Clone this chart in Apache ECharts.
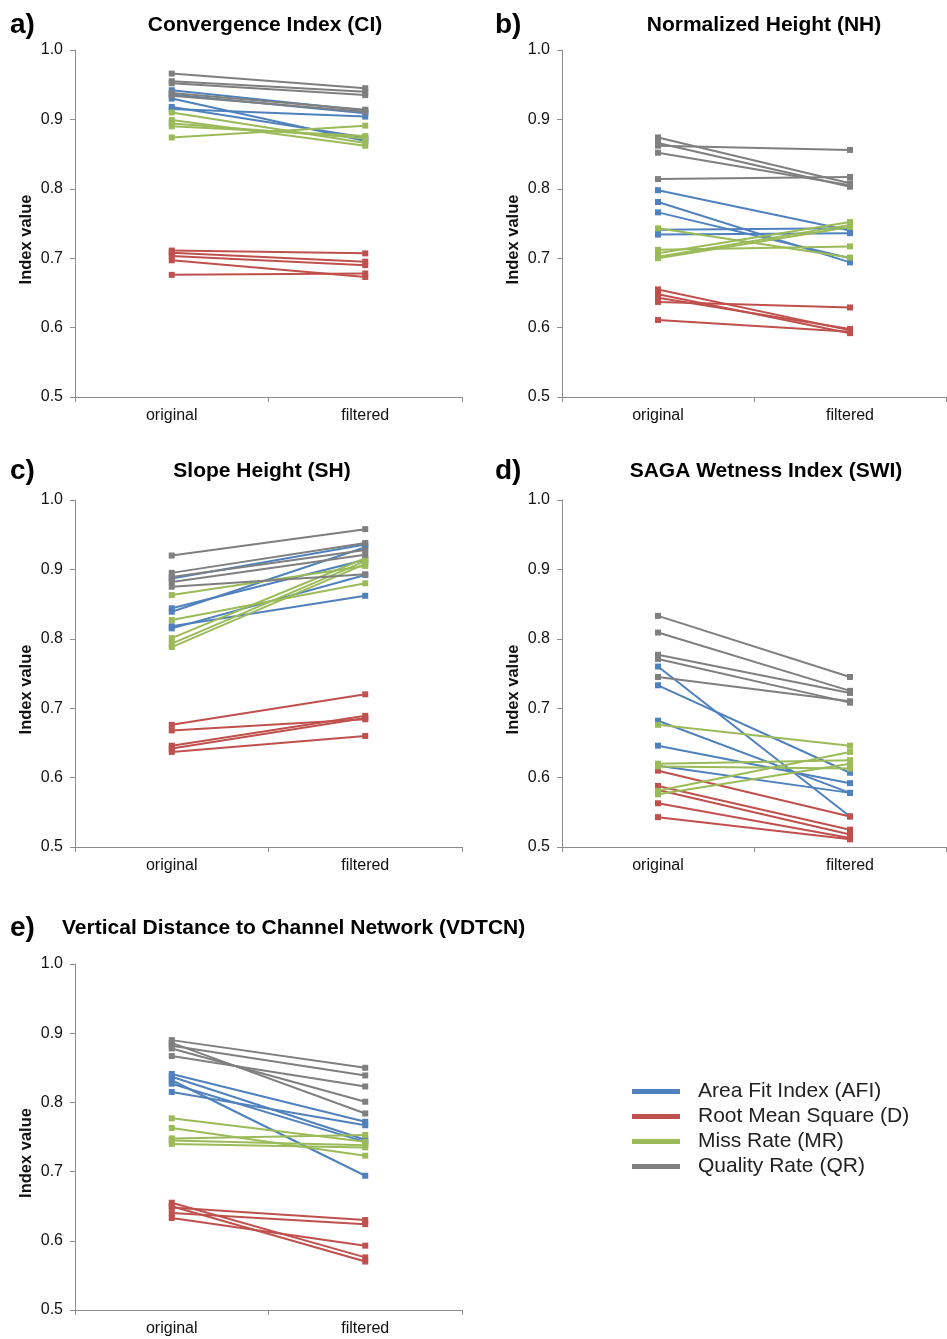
<!DOCTYPE html>
<html>
<head>
<meta charset="utf-8">
<script src="https://cdn.jsdelivr.net/npm/echarts@6/dist/echarts.min.js"></script>
<style>html,body{margin:0;padding:0;background:#fff}#c{width:947px;height:1339px}</style>
</head>
<body>
<div id="c"></div>
<script>
// ---- data (pairs: [original, filtered]) ----
const CATEGORIES = ['original', 'filtered'];
const GROUPS = ['Area Fit Index (AFI)', 'Root Mean Square (D)', 'Miss Rate (MR)', 'Quality Rate (QR)'];
const Y_TICKS = [0.5, 0.6, 0.7, 0.8, 0.9, 1.0];

const CI_AFI = [[0.942,0.913],[0.936,0.909],[0.930,0.869],[0.918,0.874],[0.915,0.904]];
const CI_D   = [[0.711,0.707],[0.708,0.695],[0.703,0.690],[0.697,0.673],[0.676,0.678]];
const CI_MR  = [[0.910,0.866],[0.899,0.862],[0.894,0.873],[0.890,0.876],[0.874,0.891]];
const CI_QR  = [[0.966,0.945],[0.955,0.940],[0.952,0.935],[0.938,0.914],[0.934,0.911]];

const NH_AFI = [[0.798,0.740],[0.781,0.694],[0.766,0.700],[0.741,0.743],[0.734,0.736]];
const NH_D   = [[0.655,0.596],[0.648,0.592],[0.643,0.598],[0.637,0.629],[0.611,0.594]];
const NH_MR  = [[0.743,0.701],[0.712,0.717],[0.707,0.752],[0.702,0.748],[0.700,0.745]];
const NH_QR  = [[0.874,0.808],[0.866,0.803],[0.862,0.856],[0.852,0.805],[0.814,0.817]];

const SH_AFI = [[0.887,0.936],[0.844,0.914],[0.839,0.932],[0.818,0.862],[0.815,0.892]];
const SH_D   = [[0.676,0.720],[0.668,0.684],[0.646,0.689],[0.642,0.686],[0.637,0.660]];
const SH_MR  = [[0.863,0.905],[0.827,0.880],[0.801,0.916],[0.793,0.912],[0.788,0.908]];
const SH_QR  = [[0.920,0.958],[0.895,0.938],[0.889,0.928],[0.882,0.921],[0.875,0.893]];

const SWI_AFI = [[0.760,0.544],[0.733,0.607],[0.682,0.578],[0.646,0.592],[0.617,0.578]];
const SWI_D   = [[0.610,0.544],[0.588,0.525],[0.582,0.518],[0.563,0.513],[0.543,0.511]];
const SWI_MR  = [[0.676,0.646],[0.620,0.625],[0.616,0.613],[0.581,0.637],[0.576,0.620]];
const SWI_QR  = [[0.833,0.745],[0.809,0.725],[0.777,0.722],[0.771,0.708],[0.745,0.710]];

const VD_AFI = [[0.841,0.772],[0.837,0.746],[0.832,0.694],[0.827,0.743],[0.815,0.767]];
const VD_D   = [[0.655,0.576],[0.650,0.570],[0.648,0.630],[0.640,0.624],[0.633,0.593]];
const VD_MR  = [[0.777,0.743],[0.763,0.723],[0.748,0.753],[0.745,0.738],[0.740,0.735]];
const VD_QR  = [[0.890,0.850],[0.886,0.784],[0.882,0.839],[0.878,0.801],[0.867,0.823]];

const PANEL_TITLES = ['Convergence Index (CI)', 'Normalized Height (NH)', 'Slope Height (SH)', 'SAGA Wetness Index (SWI)', 'Vertical Distance to Channel Network (VDTCN)'];
const PANEL_LETTERS = ['a)', 'b)', 'c)', 'd)', 'e)'];

// ---- layout/style ----
const COLORS = ['#4F81BD', '#C0504D', '#9BBB59', '#7F7F7F'];
const PANEL_DATA = [
  [CI_AFI, CI_D, CI_MR, CI_QR],
  [NH_AFI, NH_D, NH_MR, NH_QR],
  [SH_AFI, SH_D, SH_MR, SH_QR],
  [SWI_AFI, SWI_D, SWI_MR, SWI_QR],
  [VD_AFI, VD_D, VD_MR, VD_QR]
];
const GRIDS = [
  {left: 75, top: 50, width: 387, height: 347},
  {left: 562, top: 50, width: 384, height: 347},
  {left: 75, top: 500, width: 387, height: 347},
  {left: 562, top: 500, width: 384, height: 347},
  {left: 75, top: 964, width: 387, height: 346}
];
const FONT = 'Liberation Sans, Arial, sans-serif';
const AXIS_COLOR = '#8c8c8c';

const xAxes = [], yAxes = [], series = [], graphics = [];
GRIDS.forEach((g, i) => {
  xAxes.push({
    type: 'category', gridIndex: i, data: CATEGORIES, boundaryGap: true,
    axisLine: {lineStyle: {color: AXIS_COLOR, width: 1}},
    axisTick: {show: true, length: 5, lineStyle: {color: AXIS_COLOR}},
    axisLabel: {color: '#111', fontSize: 16, fontFamily: FONT, margin: 11}
  });
  yAxes.push({
    type: 'value', gridIndex: i, min: Y_TICKS[0], max: Y_TICKS[Y_TICKS.length - 1], interval: 0.1,
    name: 'Index value', nameLocation: 'middle', nameGap: 40, nameRotate: 90,
    nameTextStyle: {fontSize: 16.5, fontWeight: 'bold', fontFamily: FONT, color: '#111', padding: [0, 32, 0, 0]},
    axisLine: {show: true, lineStyle: {color: AXIS_COLOR, width: 1}},
    axisTick: {show: true, length: 5, lineStyle: {color: AXIS_COLOR}},
    splitLine: {show: false},
    axisLabel: {color: '#111', fontSize: 16, fontFamily: FONT, margin: 12, formatter: v => v.toFixed(1)}
  });
  PANEL_DATA[i].forEach((grp, gi) => {
    grp.forEach(pair => {
      series.push({
        type: 'line', name: GROUPS[gi], xAxisIndex: i, yAxisIndex: i,
        data: pair, symbol: 'rect', symbolSize: 6, showSymbol: true,
        color: COLORS[gi], lineStyle: {width: 2, color: COLORS[gi]},
        itemStyle: {color: COLORS[gi]}, silent: true, z: 2 + gi
      });
    });
  });
});

const LETTER_POS = [[10, 25], [495, 25], [10, 471], [495, 471], [10, 928]];
const TITLE_POS = [[265, 25, 'center'], [764, 25, 'center'], [262, 471, 'center'], [766, 471, 'center'], [62, 928, 'left']];
PANEL_LETTERS.forEach((t, i) => {
  graphics.push({type: 'text', x: LETTER_POS[i][0], y: LETTER_POS[i][1],
    style: {text: t, font: 'bold 28px ' + FONT, fill: '#000', textAlign: 'left', textVerticalAlign: 'middle'}});
  graphics.push({type: 'text', x: TITLE_POS[i][0], y: TITLE_POS[i][1],
    style: {text: PANEL_TITLES[i], font: 'bold 21px ' + FONT, fill: '#000', textAlign: TITLE_POS[i][2], textVerticalAlign: 'middle'}});
});

const chart = echarts.init(document.getElementById('c'), null, {renderer: 'canvas'});
chart.setOption({
  animation: false,
  backgroundColor: '#fff',
  grid: GRIDS.map(g => Object.assign({containLabel: false}, g)),
  xAxis: xAxes,
  yAxis: yAxes,
  series: series,
  graphic: graphics,
  legend: {
    data: GROUPS, orient: 'vertical', left: 627, top: 1076,
    icon: 'rect', itemWidth: 48, itemHeight: 5, itemGap: 4,
    textStyle: {fontSize: 21, fontFamily: FONT, color: '#222', padding: [0, 0, 0, 13]},
    selectedMode: false
  }
});
</script>
</body>
</html>
